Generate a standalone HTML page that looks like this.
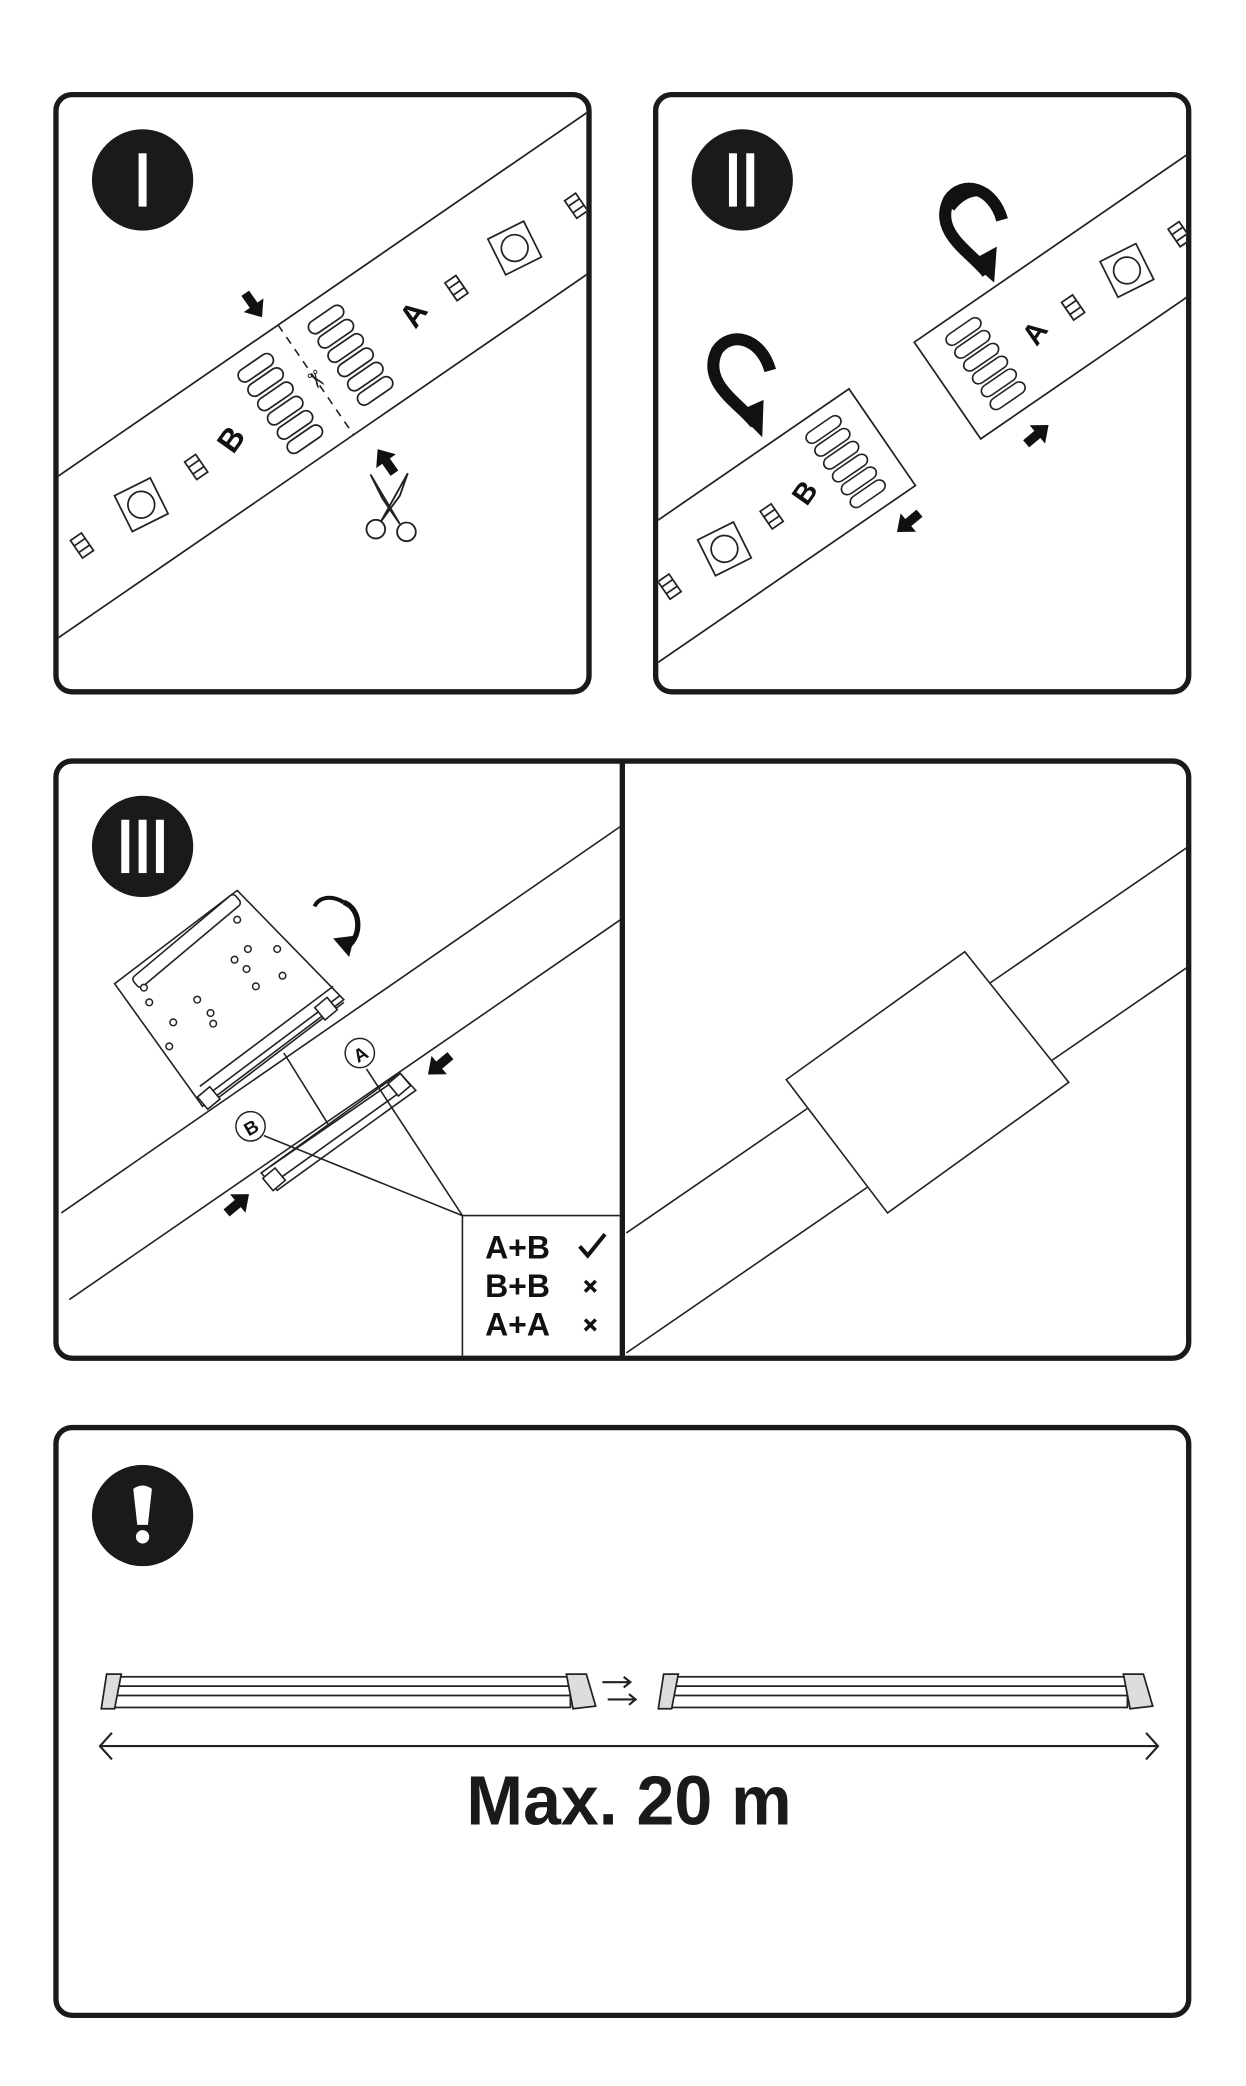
<!DOCTYPE html>
<html><head><meta charset="utf-8"><style>html,body{margin:0;padding:0;background:#fff}svg{display:block}</style></head>
<body>
<svg width="1246" height="2086" viewBox="0 0 935 1565" preserveAspectRatio="none" xmlns="http://www.w3.org/2000/svg" font-family="Liberation Sans, sans-serif">
<defs>
<clipPath id="c1"><rect x="44" y="72" width="396" height="446" rx="10"/></clipPath>
<clipPath id="c2"><rect x="494" y="72" width="396" height="446" rx="10"/></clipPath>
<clipPath id="c3"><rect x="44" y="572" width="422" height="446"/></clipPath>
<clipPath id="c4"><rect x="469" y="572" width="421" height="446"/></clipPath>
<g id="pads" fill="#fff" stroke="#222" stroke-width="1.3">
<rect x="-15" y="-38" width="30" height="10" rx="5"/><rect x="-15" y="-25" width="30" height="10" rx="5"/><rect x="-15" y="-12" width="30" height="10" rx="5"/><rect x="-15" y="1" width="30" height="10" rx="5"/><rect x="-15" y="14" width="30" height="10" rx="5"/><rect x="-15" y="27" width="30" height="10" rx="5"/>
</g>
<g id="led" fill="#fff" stroke="#222" stroke-width="1.3"><rect x="-15" y="-15" width="30" height="30" transform="rotate(8)"/><circle r="10"/></g>
<g id="res" fill="#fff" stroke="#222" stroke-width="1.3"><rect x="-5" y="-8" width="10" height="16"/><line x1="-5" y1="-3" x2="5" y2="-3"/><line x1="-5" y1="3" x2="5" y2="3"/></g>
<path id="arr" d="M0,-3.5 L11,-3.5 L11,-9 L22,0 L11,9 L11,3.5 L0,3.5Z" fill="#111"/>
</defs>

<!-- Panel frames -->
<g fill="none" stroke="#1a1a1a" stroke-width="4">
<rect x="42" y="71" width="400" height="448" rx="12"/>
<rect x="492" y="71" width="400" height="448" rx="12"/>
<rect x="42" y="571" width="850" height="448" rx="12"/>
<line x1="467" y1="571" x2="467" y2="1019"/>
<rect x="42" y="1071" width="850" height="441" rx="12"/>
</g>

<!-- Badges -->
<g fill="#1a1a1a">
<circle cx="107" cy="135" r="38"/><circle cx="557" cy="135" r="38"/><circle cx="107" cy="635" r="38"/><circle cx="107" cy="1137" r="38"/>
</g>
<g fill="#fff">
<rect x="104" y="115" width="6" height="40"/>
<rect x="547" y="115" width="6" height="40"/><rect x="560" y="115" width="6" height="40"/>
<rect x="91" y="615" width="6" height="40"/><rect x="104" y="615" width="6" height="40"/><rect x="117" y="615" width="6" height="40"/>
<path d="M100,1117 Q107,1112 114,1117 L111,1144 L103,1144Z"/><circle cx="107" cy="1153" r="5"/>
</g>

<!-- Panel I -->
<g clip-path="url(#c1)">
<g transform="translate(237,285) rotate(-34.5)">
<line x1="-400" y1="-50" x2="400" y2="-50" stroke="#222" stroke-width="1.3"/>
<line x1="-400" y1="50" x2="400" y2="50" stroke="#222" stroke-width="1.3"/>
<line x1="0" y1="-50" x2="0" y2="50" stroke="#222" stroke-width="1.2" stroke-dasharray="6,5"/>
<text x="0" y="6" font-size="18" text-anchor="middle" fill="#222" font-family="DejaVu Sans, sans-serif" transform="rotate(90)">✂</text>
<use href="#pads" x="-32" y="0"/><use href="#pads" x="32" y="0"/>
<text x="88" y="9" font-size="24" font-weight="bold" text-anchor="middle" fill="#111" transform="rotate(-20 88 0)">A</text>
<text x="-78" y="9" font-size="24" font-weight="bold" text-anchor="middle" fill="#111" transform="rotate(-20 -78 0)">B</text>
<use href="#res" x="126" y="3"/><use href="#led" x="179" y="3"/><use href="#res" x="235" y="3"/>
<use href="#res" x="-111" y="3"/><use href="#led" x="-161" y="3"/><use href="#res" x="-215" y="3"/>
</g>
</g>
<use href="#arr" transform="translate(184,220) rotate(55)"/>
<use href="#arr" transform="translate(296,355) rotate(-125)"/>
<g fill="none" stroke="#222" stroke-width="1.4">
<circle cx="282" cy="397" r="7"/><circle cx="305" cy="399" r="7"/>
<path d="M286,391 L306,355 L300,372 Z"/><path d="M300,393 L278,356 L287,374 Z"/>
</g>

<!-- Panel II -->
<g clip-path="url(#c2)">
<g transform="translate(711,293) rotate(-34.5)" stroke="#222" stroke-width="1.3">
<path d="M300,-44 L0,-44 L0,44 L300,44" fill="#fff"/>
<use href="#pads" x="35" y="0" transform="scale(1,0.9)"/>
<text x="78" y="9" font-size="22" font-weight="bold" text-anchor="middle" fill="#111" stroke="none" transform="rotate(-20 78 0)">A</text>
<use href="#res" x="113" y="2"/><use href="#led" x="162" y="2"/><use href="#res" x="210" y="2"/>
</g>
<g transform="translate(662,328) rotate(-34.5)" stroke="#222" stroke-width="1.3">
<path d="M-300,-44 L0,-44 L0,44 L-300,44" fill="#fff"/>
<use href="#pads" x="-33" y="0" transform="scale(1,0.9)"/>
<text x="-72" y="9" font-size="22" font-weight="bold" text-anchor="middle" fill="#111" stroke="none" transform="rotate(-20 -72 0)">B</text>
<use href="#res" x="-102" y="2"/><use href="#led" x="-145" y="2"/><use href="#res" x="-195" y="2"/>
</g>
</g>
<g fill="none" stroke="#111" stroke-width="9">
<path d="M741,205 C730,190 700,175 712,150 C722,135 745,140 752,165"/>
<path d="M567,318 C556,303 526,288 538,263 C548,248 571,253 578,278"/>
</g>
<path d="M728,196 L746,212 L748,185Z" fill="#111"/>
<path d="M553,309 L572,328 L573,300Z" fill="#111"/>
<path d="M708,152 Q722,132 744,145 L748,152 Q730,140 716,158Z" fill="#111"/>
<use href="#arr" transform="translate(770,333) rotate(-40)"/>
<use href="#arr" transform="translate(690,385) rotate(140)"/>

<!-- Panel III left -->
<g clip-path="url(#c3)" stroke="#222" stroke-width="1.2" fill="none">
<line x1="46" y1="910" x2="470" y2="617"/>
<line x1="52" y1="975" x2="470" y2="687"/>
</g>
<g stroke="#222" stroke-width="1.2" fill="#fff">
<polygon points="178,668 258,750 152,830 86,738"/>
<rect x="-50" y="-5" width="100" height="10" rx="3" transform="translate(140,706) rotate(-40)"/>
<path d="M150,815 L250,740 M155,822 L255,747 M158,828 L258,752"/>
<rect x="-6" y="-5" width="12" height="12" transform="translate(156,823) rotate(-40)"/>
<rect x="-6" y="-5" width="12" height="12" transform="translate(244,756) rotate(-40)"/>
<path d="M196,880 L300,805 L312,818 L208,893Z"/>
<path d="M203,875 L300,808 M210,884 L305,816"/>
<rect x="-6" y="-5" width="12" height="12" transform="translate(205,884) rotate(-40)"/>
<rect x="-6" y="-5" width="12" height="12" transform="translate(299,813) rotate(-40)"/>
<line x1="213" y1="790" x2="246" y2="843"/>
<line x1="275" y1="802" x2="347" y2="912"/>
<line x1="198" y1="852" x2="347" y2="912"/>
<line x1="347" y1="912" x2="465" y2="912"/>
<line x1="347" y1="912" x2="347" y2="1017"/>
</g>
<g fill="#fff" stroke="#222" stroke-width="1.1">
<circle cx="178" cy="690" r="2.5"/><circle cx="186" cy="712" r="2.5"/><circle cx="176" cy="720" r="2.5"/><circle cx="185" cy="727" r="2.5"/><circle cx="192" cy="740" r="2.5"/><circle cx="208" cy="712" r="2.5"/><circle cx="212" cy="732" r="2.5"/>
<circle cx="148" cy="750" r="2.5"/><circle cx="158" cy="760" r="2.5"/><circle cx="160" cy="768" r="2.5"/><circle cx="130" cy="767" r="2.5"/><circle cx="112" cy="752" r="2.5"/><circle cx="127" cy="785" r="2.5"/><circle cx="108" cy="741" r="2.5"/>
<circle cx="270" cy="790" r="11"/><circle cx="188" cy="845" r="11"/>
</g>
<text x="270" y="796" font-size="14" font-weight="bold" text-anchor="middle" fill="#111" transform="rotate(-30 270 790)">A</text>
<text x="188" y="851" font-size="14" font-weight="bold" text-anchor="middle" fill="#111" transform="rotate(-30 188 845)">B</text>
<path d="M258,677 C272,682 272,705 258,712" fill="none" stroke="#111" stroke-width="4"/>
<path d="M236,680 C240,672 250,672 258,677" fill="none" stroke="#111" stroke-width="3"/>
<path d="M250,704 L262,718 L266,702Z" fill="#111"/>
<use href="#arr" transform="translate(338,792) rotate(140)"/>
<use href="#arr" transform="translate(170,910) rotate(-40)"/>
<g font-size="24" font-weight="bold" fill="#111">
<text x="364" y="944">A+B</text><text x="364" y="973">B+B</text><text x="364" y="1002">A+A</text>
</g>
<path d="M435,935 L441,942 L454,926" fill="none" stroke="#111" stroke-width="3"/>
<g stroke="#111" stroke-width="2.6"><path d="M439,961 L447,969 M447,961 L439,969"/><path d="M439,990 L447,998 M447,990 L439,998"/></g>

<!-- Panel III right -->
<g clip-path="url(#c4)" stroke="#222" stroke-width="1.2" fill="none">
<line x1="470" y1="925" x2="892" y2="635"/>
<line x1="470" y1="1015" x2="892" y2="725"/>
</g>
<polygon points="724,714 802,812 666,910 590,810" fill="#fff" stroke="#222" stroke-width="1.2"/>

<!-- Panel IV -->
<g stroke="#222" stroke-width="1.3" fill="#fff">
<rect x="84" y="1258" width="344" height="23"/>
<line x1="84" y1="1265" x2="428" y2="1265"/><line x1="84" y1="1272" x2="428" y2="1272"/>
<path d="M80,1256 L91,1256 L86,1282 L76,1282Z" fill="#ddd"/>
<path d="M425,1256 L440,1256 L447,1280 L430,1282Z" fill="#ddd"/>
<rect x="502" y="1258" width="344" height="23"/>
<line x1="502" y1="1265" x2="846" y2="1265"/><line x1="502" y1="1272" x2="846" y2="1272"/>
<path d="M498,1256 L509,1256 L504,1282 L494,1282Z" fill="#ddd"/>
<path d="M843,1256 L858,1256 L865,1280 L848,1282Z" fill="#ddd"/>
</g>
<g stroke="#222" stroke-width="1.6" fill="none">
<path d="M452,1262 L472,1262 M468,1258 L473,1262 L468,1266"/>
<path d="M456,1275 L476,1275 M472,1271 L477,1275 L472,1279"/>
<line x1="76" y1="1310" x2="868" y2="1310"/>
<path d="M84,1300 L75,1310 L84,1320"/><path d="M860,1300 L869,1310 L860,1320"/>
</g>
<text x="472" y="1369" font-size="52" font-weight="bold" text-anchor="middle" fill="#1a1a1a" textLength="244" lengthAdjust="spacingAndGlyphs">Max. 20 m</text>
</svg>
</body></html>
